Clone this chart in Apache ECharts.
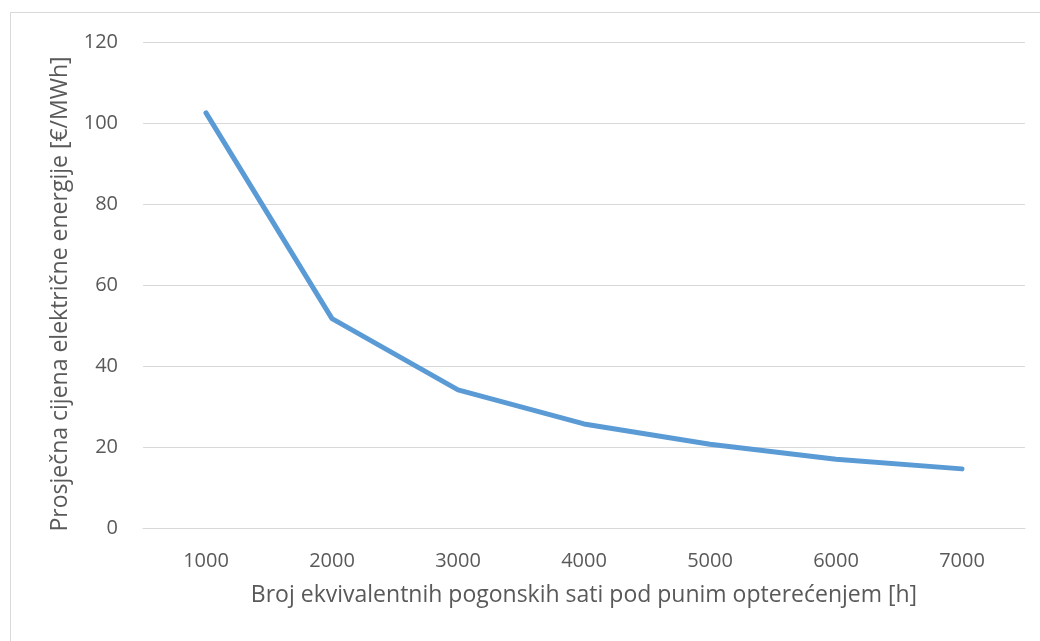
<!DOCTYPE html>
<html>
<head>
<meta charset="utf-8">
<script src="https://cdn.jsdelivr.net/npm/echarts@6/dist/echarts.min.js"></script>
<style>
  html, body { margin: 0; padding: 0; background: #fff; }
  #frame { position: absolute; left: 10px; top: 12px; width: 1100px; height: 700px; border: 1px solid #d9d9d9; box-sizing: border-box; }
  #chart { position: absolute; left: 0; top: 0; width: 1040px; height: 641px; }
</style>
</head>
<body>
<div id="frame"></div>
<div id="chart"></div>
<script>
const hours = ['1000', '2000', '3000', '4000', '5000', '6000', '7000']
const avgPrice = [102.5, 51.7, 34.1, 25.7, 20.7, 17.0, 14.6]
const yTicks = [0, 20, 40, 60, 80, 100, 120]

const FONT = 'Open Sans'
const GREY = '#595959'

const chart = echarts.init(document.getElementById('chart'), null, { renderer: 'canvas' })
chart.setOption({
  animation: false,
  textStyle: { fontFamily: FONT },
  grid: { left: 143, right: 15, top: 42, bottom: 113 },
  xAxis: {
    type: 'category',
    data: hours,
    boundaryGap: true,
    name: 'Broj ekvivalentnih pogonskih sati pod punim opterećenjem [h]',
    nameLocation: 'middle',
    nameGap: 56,
    nameTextStyle: { color: GREY, fontSize: 23, fontFamily: FONT },
    axisLine: { show: true, lineStyle: { color: '#d9d9d9', width: 1 } },
    axisTick: { show: false },
    axisLabel: { color: GREY, fontSize: 20, margin: 23, fontFamily: FONT },
  },
  yAxis: {
    type: 'value',
    min: yTicks[0],
    max: yTicks[yTicks.length - 1],
    interval: 20,
    name: 'Prosječna cijena električne energije [€/MWh]',
    nameLocation: 'middle',
    nameGap: 71,
    // nudge the title a little downwards, like the original
    nameTextStyle: { color: GREY, fontSize: 23, fontFamily: FONT, padding: [0, 18, 0, 0] },
    axisLine: { show: false },
    axisTick: { show: false },
    axisLabel: { color: GREY, fontSize: 20, margin: 25, fontFamily: FONT },
    splitLine: { lineStyle: { color: '#d9d9d9', width: 1 } },
  },
  series: [{
    type: 'line',
    data: avgPrice,
    showSymbol: false,
    smooth: false,
    lineStyle: { color: '#5b9bd5', width: 5, cap: 'round', join: 'round' },
    itemStyle: { color: '#5b9bd5' },
  }],
})
</script>
</body>
</html>
